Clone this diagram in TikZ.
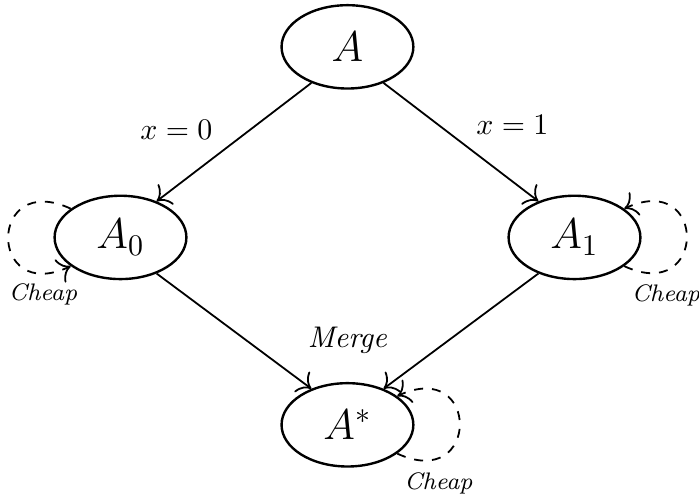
\documentclass[tikz,border=0pt]{standalone}
\usepackage{amsmath}
\usepackage{amssymb}
\usepackage{xcolor}
\usepackage{tikz}
\usetikzlibrary{arrows.meta, positioning, shapes.geometric}

\begin{document}
\begin{tikzpicture}[
    state/.style={ellipse, draw=black, fill=white, thick, minimum width=1.55cm, minimum height=0.98cm, inner sep=0pt, font=\Large},
    arr/.style={draw=black, semithick, -{To[scale=1.4]}},
    loopy/.style={draw=black, semithick, dashed, -{To[scale=1.4]}},
    lbl/.style={font=\normalsize},
    cheap/.style={font=\footnotesize\itshape}
]
    \useasboundingbox (0,0) rectangle (8.22,5.89);

    % States
    \node[state] (A) at (4.086, 5.339) {$A$};
    \node[state] (A0) at (1.417, 3.098) {$A_0$};
    \node[state] (A1) at (6.756, 3.098) {$A_1$};
    \node[state] (Astar) at (4.086, 0.894) {$A^*$};

    % Merge note
    \node[lbl, above=0.21cm of Astar] (merge) {\textit{Merge}};

    % Branches
    \draw[arr] (A.225) -- node[lbl, pos=0.57, above left] (x0) {$x=0$} (A0.45);
    \draw[arr] (A.-45) -- node[lbl, pos=0.53, above right] (x1) {$x=1$} (A1.135);
    \draw[arr] (A0.-45) -- (Astar.135);
    \draw[arr] (A1.-135) -- (Astar.45);

    % Self loops
    \draw[loopy] (A0.150) .. controls +(155:1.08) and +(205:1.08) .. (A0.210);
    \draw[loopy] (A1.-30) .. controls +(-25:1.08) and +(25:1.08) .. (A1.30);
    \draw[loopy] (Astar.-30) .. controls +(-25:1.08) and +(25:1.08) .. (Astar.30);

    \node[cheap] (c0) at (0.506, 2.422) {Cheap};
    \node[cheap] (c1) at (7.831, 2.416) {Cheap};
    \node[cheap] (c2) at (5.156, 0.200) {Cheap};
\end{tikzpicture}
\end{document}
